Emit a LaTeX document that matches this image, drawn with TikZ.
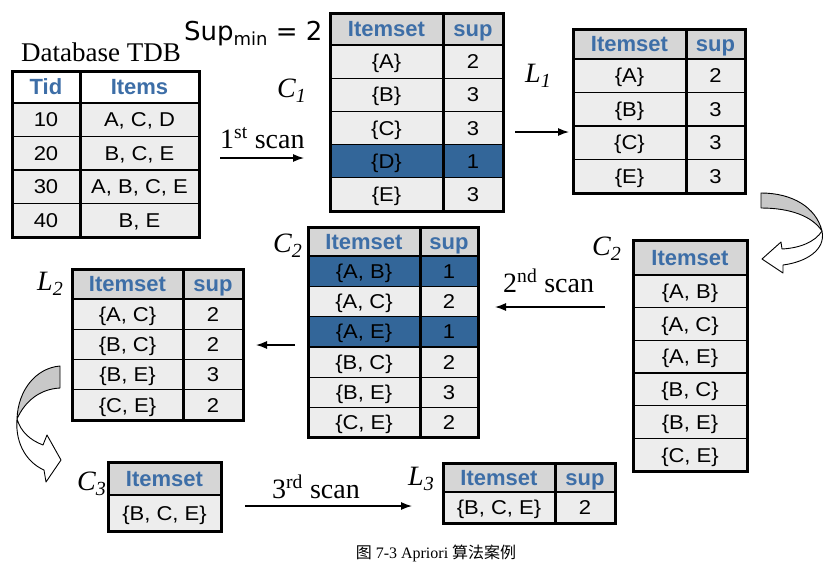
\documentclass[tikz,border=0pt]{standalone}
\usepackage{fontspec}
\setmainfont{Liberation Serif}
\newfontfamily\tabfont{Liberation Sans}[FakeStretch=1.1]
\newfontfamily\hdfont{Liberation Sans}
\newfontfamily\supfont{DejaVu Sans}
\newfontfamily\cjk{Noto Sans CJK SC}
\usetikzlibrary{arrows.meta}
\definecolor{hdrgray}{HTML}{D6D6D6}
\definecolor{rowgray}{HTML}{EDEDED}
\definecolor{blu}{HTML}{336699}
\definecolor{hdrblue}{HTML}{3D6EA7}
\definecolor{bandgray}{HTML}{C8C8C8}
\tikzset{
 cell/.style={draw=black, line width=1.3pt, inner sep=0pt, outer sep=0pt, anchor=north west,
   font=\tabfont\fontsize{20}{23}\selectfont, text height=14.3pt, text depth=0pt},
 hdcell/.style={cell, fill=hdrgray, text=hdrblue, font=\hdfont\bfseries\fontsize{22}{25}\selectfont, text height=15.8pt},
 outerbox/.style={draw=black, line width=3pt},
 lab/.style={anchor=base west, inner sep=0pt, font=\fontsize{28}{30}\selectfont\itshape},
 scantxt/.style={anchor=base west, inner sep=0pt, font=\fontsize{28}{30}\selectfont},
 arr/.style={line width=1.3pt, -{Latex[length=11pt,width=8pt]}},
 band/.style={draw=black, line width=0.9pt, line join=round},
}
\newcommand\sublab[2]{#1\raisebox{-5pt}{\fontsize{20}{22}\selectfont #2}}
\newcommand\twotab[9]{%
  \node[hdcell, minimum width=#3, minimum height=#5] (#1-a0) at (#2) {#7};
  \node[hdcell, minimum width=#4, minimum height=#5] (#1-b0) at (#1-a0.north east) {#8};
  \foreach \ta/\tb/\tf [count=\ii, remember=\ii as \jj (initially 0)] in {#9} {
    \node[cell, fill=\tf, minimum width=#3, minimum height=#6] (#1-a\ii) at (#1-a\jj.south west) {\ta};
    \node[cell, fill=\tf, minimum width=#4, minimum height=#6] (#1-b\ii) at (#1-a\ii.north east) {\tb};
    \xdef\lastrow{\ii}
  }
  \draw[outerbox] (#1-a0.north west) rectangle (#1-b\lastrow.south east);
  \draw[outerbox] (#1-b0.north west) -- (#1-b\lastrow.south west);
}
\newcommand\onetab[6]{%
  \node[hdcell, minimum width=#3, minimum height=#4] (#1-a0) at (#2) {Itemset};
  \foreach \ta [count=\ii, remember=\ii as \jj (initially 0)] in {#6} {
    \node[cell, fill=rowgray, minimum width=#3, minimum height=#5] (#1-a\ii) at (#1-a\jj.south west) {\ta};
    \xdef\lastrow{\ii}
  }
  \draw[outerbox] (#1-a0.north west) rectangle (#1-a\lastrow.south east);
}
\begin{document}
\begin{tikzpicture}[x=1pt,y=-1pt]
\useasboundingbox (0,0) rectangle (838,566);

% titles
\node[anchor=base west, inner sep=0pt, font=\fontsize{27}{30}\selectfont] (tdbtitle) at (21,61) {Database TDB};
\node[anchor=base west, inner sep=0pt, font=\supfont\fontsize{26}{29}\selectfont] (supmin) at (184,40)
  {Sup\raisebox{-5pt}{\fontsize{18}{19}\selectfont min} = 2};

% tables
\begin{scope}[hdcell/.append style={fill=white}]
\twotab{tdb}{12,71}{68pt}{119pt}{32pt}{33.5pt}{Tid}{Items}
  {10/{A, C, D}/rowgray, 20/{B, C, E}/rowgray, 30/{A, B, C, E}/rowgray, 40/{B, E}/rowgray}
\end{scope}
\twotab{c1}{330,13}{113pt}{60pt}{32pt}{33.2pt}{Itemset}{sup}
  {{\{A\}}/2/rowgray, {\{B\}}/3/rowgray, {\{C\}}/3/rowgray, {\{D\}}/1/blu, {\{E\}}/3/rowgray}
\twotab{l1}{573,29}{113pt}{59pt}{30pt}{33.5pt}{Itemset}{sup}
  {{\{A\}}/2/rowgray, {\{B\}}/3/rowgray, {\{C\}}/3/rowgray, {\{E\}}/3/rowgray}
\twotab{c2}{308,227}{112pt}{58pt}{29pt}{30.3pt}{Itemset}{sup}
  {{\{A, B\}}/1/blu, {\{A, C\}}/2/rowgray, {\{A, E\}}/1/blu, {\{B, C\}}/2/rowgray, {\{B, E\}}/3/rowgray, {\{C, E\}}/2/rowgray}
\onetab{c2r}{633,240}{114pt}{35pt}{32.7pt}
  {{\{A, B\}}, {\{A, C\}}, {\{A, E\}}, {\{B, C\}}, {\{B, E\}}, {\{C, E\}}}
\twotab{l2}{72,269}{111pt}{60pt}{30pt}{30.25pt}{Itemset}{sup}
  {{\{A, C\}}/2/rowgray, {\{B, C\}}/2/rowgray, {\{B, E\}}/3/rowgray, {\{C, E\}}/2/rowgray}
\onetab{c3}{108,462}{113pt}{33pt}{36pt}{{\{B, C, E\}}}
\twotab{l3}{443,463}{112pt}{60pt}{29pt}{31pt}{Itemset}{sup}
  {{\{B, C, E\}}/2/rowgray}

% set labels
\node[lab] (labc1) at (277,97) {\sublab{C}{1}};
\node[lab] (labl1) at (525,82) {\sublab{L}{1}};
\node[lab] (labc2) at (273,252) {\sublab{C}{2}};
\node[lab] (labc2r) at (592,255) {\sublab{C}{2}};
\node[lab] (labl2) at (37,290) {\sublab{L}{2}};
\node[lab] (labc3) at (77,490) {\sublab{C}{3}};
\node[lab] (labl3) at (408,485) {\sublab{L}{3}};

% scan labels
\node[scantxt] (scan1) at (220,148) {1\textsuperscript{st} scan};
\node[scantxt] (scan2) at (503,292) {2\textsuperscript{nd} scan};
\node[scantxt] (scan3) at (272,498) {3\textsuperscript{rd} scan};

% arrows
\coordinate (a1s) at (220,158); \coordinate (a1e) at (304,158);
\coordinate (a2s) at (515,132); \coordinate (a2e) at (569,132);
\coordinate (a3s) at (605,307); \coordinate (a3e) at (495,307);
\coordinate (a4s) at (295,345); \coordinate (a4e) at (256,345);
\coordinate (a5s) at (245,506); \coordinate (a5e) at (412,506);
\draw[arr] (a1s) -- (a1e);
\draw[arr] (a2s) -- (a2e);
\draw[arr] (a3s) -- (a3e);
\draw[arr] (a4s) -- (a4e);
\draw[arr] (a5s) -- (a5e);

% curved ribbon arrow right
\draw[band, fill=bandgray] (761,193) .. controls (792,193) and (816,207) .. (822,231)
  .. controls (812,216) and (790,208) .. (761,208) -- cycle;
\draw[band, fill=white] (822,231) .. controls (826,250) and (806,262) .. (783,265)
  -- (783,273) -- (762,259) -- (781,242) -- (782,249)
  .. controls (800,248) and (815,242) .. (822,231) -- cycle;

% curved ribbon arrow left
\draw[band, fill=bandgray] (60,366) .. controls (36,368) and (18,390) .. (17,419)
  .. controls (25,401) and (40,389) .. (60,388) -- cycle;
\draw[band, fill=white] (17,419) .. controls (15,445) and (28,463) .. (44,470)
  -- (46,482) -- (61,460) -- (47,435) -- (43,445)
  .. controls (30,440) and (21,432) .. (17,419) -- cycle;

% caption
\node[font=\fontsize{16}{18}\selectfont, inner sep=0pt] (caption) at (436,553)
  {{\cjk 图} 7-3 Apriori {\cjk 算法案例}};
\end{tikzpicture}
\end{document}
